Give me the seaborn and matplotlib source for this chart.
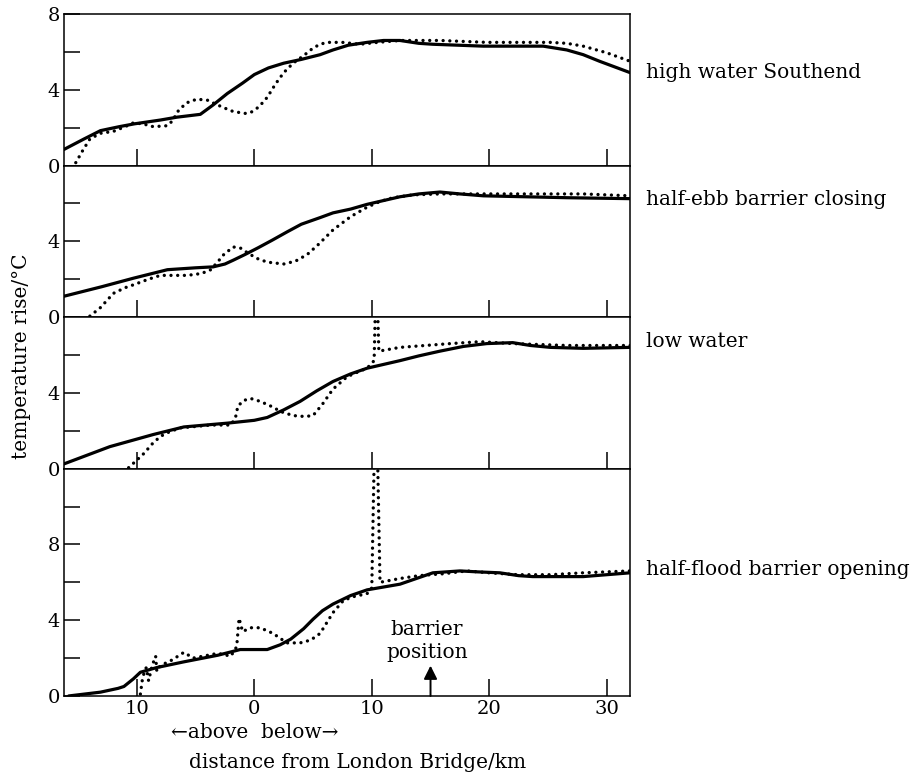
import numpy as np
import pandas as pd
import matplotlib
matplotlib.use("Agg")
import matplotlib.pyplot as plt
import seaborn as sns

# ---------------- data ----------------
# distance from London Bridge in km (negative = above bridge), temperature rise in degC
p1_solid_x = [-16.2, -14.5, -13.1, -11.5, -10.2, -8.0, -6.6, -4.6, -3.5, -2.3, -1.0, 0.0, 1.2, 2.5, 4.0, 5.6, 6.7, 8.0, 9.6, 11.0, 12.4, 14.0, 15.2, 19.5, 24.6, 26.6, 28.0, 29.4, 32.0]
p1_solid_y = [0.85, 1.4, 1.84, 2.05, 2.2, 2.4, 2.55, 2.7, 3.2, 3.8, 4.35, 4.8, 5.15, 5.4, 5.6, 5.85, 6.1, 6.35, 6.5, 6.6, 6.6, 6.45, 6.4, 6.3, 6.3, 6.1, 5.85, 5.5, 4.9]
p1_dot_x = [-15.2, -14.6, -14.0, -13.1, -12.0, -11.0, -10.3, -9.5, -8.6, -7.4, -6.9, -6.6, -5.8, -4.9, -4.0, -3.5, -2.6, -1.8, -0.8, -0.3, 0.4, 1.1, 1.8, 2.5, 3.3, 4.2, 5.0, 5.6, 6.2, 7.5, 9.0, 10.5, 12.4, 15.8, 19.8, 25.2, 26.6, 28.0, 30.0, 32.0]
p1_dot_y = [0.15, 0.8, 1.4, 1.7, 1.8, 2.05, 2.25, 2.2, 2.05, 2.1, 2.4, 2.8, 3.3, 3.5, 3.45, 3.3, 3.05, 2.85, 2.75, 2.8, 3.1, 3.6, 4.3, 4.9, 5.4, 5.8, 6.2, 6.4, 6.5, 6.5, 6.4, 6.5, 6.6, 6.6, 6.5, 6.5, 6.45, 6.3, 5.95, 5.5]

p2_solid_x = [-16.2, -13.0, -10.3, -7.4, -5.0, -3.5, -2.5, -1.8, -0.8, 0.3, 1.5, 2.8, 4.0, 5.6, 6.7, 8.2, 9.6, 11.0, 12.4, 14.0, 15.8, 17.5, 19.5, 26.6, 32.0]
p2_solid_y = [1.1, 1.6, 2.05, 2.5, 2.6, 2.65, 2.8, 3.0, 3.3, 3.65, 4.05, 4.5, 4.9, 5.25, 5.5, 5.7, 5.95, 6.15, 6.35, 6.5, 6.6, 6.5, 6.4, 6.3, 6.25]
p2_dot_x = [-14.0, -13.1, -12.0, -11.0, -10.3, -9.0, -8.0, -5.7, -4.5, -3.7, -3.0, -2.6, -1.8, -1.2, -0.6, 0.2, 1.1, 2.5, 3.5, 4.5, 5.4, 6.7, 8.2, 9.6, 10.7, 11.8, 13.5, 15.8, 20.9, 28.0, 32.0]
p2_dot_y = [0.05, 0.5, 1.25, 1.55, 1.7, 2.0, 2.2, 2.2, 2.3, 2.5, 3.0, 3.3, 3.7, 3.65, 3.4, 3.1, 2.9, 2.8, 2.95, 3.3, 3.8, 4.6, 5.3, 5.8, 6.1, 6.3, 6.45, 6.5, 6.5, 6.5, 6.4]

p3_solid_x = [-16.2, -12.3, -8.6, -6.0, -2.3, 0.0, 1.1, 2.5, 3.9, 5.3, 6.7, 8.2, 9.6, 11.0, 12.4, 14.0, 15.8, 17.8, 19.8, 22.0, 23.5, 25.2, 28.0, 32.0]
p3_solid_y = [0.25, 1.16, 1.8, 2.2, 2.4, 2.55, 2.7, 3.1, 3.55, 4.1, 4.6, 5.0, 5.3, 5.5, 5.7, 5.95, 6.2, 6.45, 6.6, 6.65, 6.5, 6.4, 6.35, 6.4]
p3_dot_x = [-10.7, -10.0, -9.4, -8.7, -8.0, -7.2, -6.3, -3.7, -2.0, -1.6, -1.4, -0.9, -0.3, 0.5, 1.4, 2.3, 3.3, 4.3, 5.0, 5.8, 6.7, 7.9, 9.0, 9.6, 10.2, 10.3, 10.5, 10.6, 12.4, 16.7, 19.2, 22.0, 26.6, 32.0]
p3_dot_y = [0.05, 0.45, 0.8, 1.3, 1.7, 1.95, 2.15, 2.3, 2.3, 2.7, 3.3, 3.6, 3.7, 3.55, 3.3, 3.0, 2.8, 2.75, 2.8, 3.4, 4.2, 4.85, 5.15, 5.3, 5.7, 8.4, 8.4, 6.2, 6.4, 6.6, 6.7, 6.6, 6.5, 6.5]

p4_solid_x = [-15.8, -13.1, -11.6, -11.1, -10.3, -9.7, -8.3, -6.0, -3.1, -1.2, 0.0, 1.1, 2.2, 3.1, 4.2, 5.0, 5.8, 6.7, 8.2, 9.6, 11.0, 12.4, 13.8, 15.2, 17.5, 19.0, 20.9, 22.5, 23.7, 28.0, 32.0]
p4_solid_y = [0.0, 0.2, 0.4, 0.5, 0.9, 1.25, 1.5, 1.8, 2.15, 2.45, 2.45, 2.45, 2.7, 3.0, 3.55, 4.05, 4.5, 4.85, 5.3, 5.6, 5.75, 5.9, 6.2, 6.5, 6.6, 6.55, 6.5, 6.35, 6.3, 6.3, 6.5]
p4_dot_x = [-9.7, -9.5, -9.2, -9.0, -8.7, -8.4, -8.3, -8.0, -7.0, -6.0, -5.2, -3.1, -2.0, -1.5, -1.3, -1.0, -0.3, 0.5, 1.6, 2.3, 2.8, 3.9, 4.8, 5.6, 6.2, 6.7, 7.6, 8.5, 9.6, 10.0, 10.2, 10.5, 10.7, 12.4, 14.0, 16.1, 18.1, 20.0, 22.4, 25.2, 28.0, 32.0]
p4_dot_y = [0.1, 1.0, 1.5, 0.8, 1.6, 2.1, 1.3, 1.6, 1.9, 2.3, 2.0, 2.25, 2.1, 2.6, 4.1, 3.4, 3.6, 3.6, 3.3, 3.0, 2.8, 2.8, 2.95, 3.3, 3.9, 4.4, 5.05, 5.25, 5.4, 5.7, 12.4, 12.4, 6.0, 6.2, 6.35, 6.45, 6.6, 6.5, 6.4, 6.4, 6.5, 6.6]

panel_labels = ["high water Southend", "half-ebb barrier closing", "low water", "half-flood barrier opening"]
x_tick_pos = [-10, 0, 10, 20, 30]
x_tick_labels = ["10", "0", "10", "20", "30"]
barrier_km = 15

# ---------------- style ----------------
sns.set_style("ticks")
plt.rcParams["font.family"] = ["DejaVu Serif", "DejaVu Sans"]
for k in ["text.color", "axes.labelcolor", "xtick.color", "ytick.color", "axes.edgecolor"]:
    plt.rcParams[k] = "black"
plt.rcParams["axes.linewidth"] = 1.1

fig = plt.figure(figsize=(9.16, 7.75), dpi=100)
gs = fig.add_gridspec(4, 1, height_ratios=[8, 8, 8, 12], hspace=0,
                      left=0.0699, right=0.688, top=0.982, bottom=0.102)
axes = [fig.add_subplot(gs[i]) for i in range(4)]

series = [
    (p1_solid_x, p1_solid_y, p1_dot_x, p1_dot_y, 8),
    (p2_solid_x, p2_solid_y, p2_dot_x, p2_dot_y, 8),
    (p3_solid_x, p3_solid_y, p3_dot_x, p3_dot_y, 8),
    (p4_solid_x, p4_solid_y, p4_dot_x, p4_dot_y, 12),
]

for i, (ax, (sx, sy, dx, dy, ymax)) in enumerate(zip(axes, series)):
    sns.lineplot(x=sx, y=sy, ax=ax, color="black", linewidth=2.3,
                 estimator=None, sort=False, solid_joinstyle="round",
                 solid_capstyle="round")
    sns.lineplot(x=dx, y=dy, ax=ax, color="black", linewidth=2.4,
                 linestyle=(0, (0.01, 2.0)), dash_capstyle="round",
                 estimator=None, sort=False)
    ax.set_xlim(-16.2, 32.0)
    ax.set_ylim(0, ymax)
    ax.set_xticks(x_tick_pos)
    if i == 0:
        ax.set_yticks([0, 4, 8])
        ax.set_yticks([2, 6], minor=True)
    elif i in (1, 2):
        ax.set_yticks([0, 4])
        ax.set_yticks([2, 6], minor=True)
    else:
        ax.set_yticks([0, 4, 8])
        ax.set_yticks([2, 6, 10], minor=True)
    ax.tick_params(axis="both", which="both", direction="in", length=11.5,
                   width=1.1, labelsize=14, pad=3, colors="black")
    ax.tick_params(axis="x", which="major", length=12.5)
    if i < 3:
        ax.tick_params(axis="x", labelbottom=False)
    else:
        ax.set_xticklabels(x_tick_labels)
    for s in ax.spines.values():
        s.set_visible(True)
        s.set_linewidth(1.1)
        s.set_color("black")
    ax.set_xlabel("")
    ax.set_ylabel("")

# right-hand panel labels
label_y = [0.907, 0.742, 0.559, 0.265]
for txt, yy in zip(panel_labels, label_y):
    fig.text(0.705, yy, txt, ha="left", va="center", fontsize=14.5)

# axis labels
fig.text(0.024, 0.54, "temperature rise/°C", rotation=90, ha="center",
         va="center", fontsize=14.5)
fig.text(0.39, 0.0155, "distance from London Bridge/km", ha="center",
         va="center", fontsize=14.5)
ax4 = axes[3]
ax4.text(0.0, -0.16, "←above  below→", transform=ax4.get_xaxis_transform(),
         ha="center", va="center", fontsize=14.5, clip_on=False)

# barrier position
ax4.annotate("", xy=(barrier_km, 1.6), xytext=(barrier_km, 0),
             arrowprops=dict(arrowstyle="-|>", color="black", lw=1.4,
                             mutation_scale=20, shrinkA=0, shrinkB=0))
ax4.text(barrier_km - 0.3, 2.9, "barrier\nposition", ha="center", va="center",
         fontsize=14.5, linespacing=1.25)

fig.savefig("out.png", dpi=100)
